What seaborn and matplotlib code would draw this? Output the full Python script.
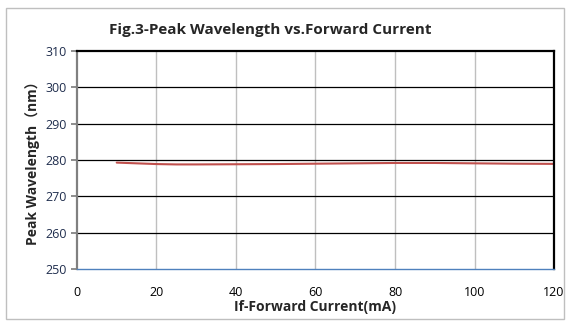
import matplotlib
matplotlib.use("Agg")
import matplotlib.pyplot as plt
import seaborn as sns
import pandas as pd
from matplotlib.patches import Rectangle

current_mA = [10, 15, 20, 25, 30, 40, 50, 60, 70, 80, 90, 100, 110, 120]
peak_nm = [279.3, 279.1, 278.9, 278.8, 278.8, 278.85, 278.9, 279.0, 279.1, 279.2, 279.2, 279.1, 279.0, 278.95]
x_ticks = [0, 20, 40, 60, 80, 100, 120]
y_ticks = [250, 260, 270, 280, 290, 300, 310]

df = pd.DataFrame({"I": current_mA, "WL": peak_nm})

sns.set_theme(style="white")
plt.rcParams['font.family'] = ['Open Sans', 'DejaVu Sans']

fig = plt.figure(figsize=(5.7, 3.25), dpi=100)
fig.patch.set_facecolor("white")
fig.patches.append(Rectangle((0.011, 0.02), 0.978, 0.955, transform=fig.transFigure,
                             fill=False, edgecolor="#bfbfbf", linewidth=1.0))
ax = fig.add_axes([0.135, 0.172, 0.837, 0.671])

sns.lineplot(data=df, x="I", y="WL", ax=ax, color="#c0504d", linewidth=1.5)

ax.set_xlim(0, 120)
ax.set_ylim(250, 310)
ax.set_xticks(x_ticks)
ax.set_yticks(y_ticks)
ax.grid(False)
for xt in x_ticks[1:-1]:
    ax.axvline(xt, color="#bfbfbf", linewidth=1.0, zorder=0)
for yt in y_ticks[1:-1]:
    ax.axhline(yt, color="#000000", linewidth=0.9, zorder=0)

ax.spines["top"].set_color("black"); ax.spines["top"].set_linewidth(1.6)
ax.spines["right"].set_color("black"); ax.spines["right"].set_linewidth(1.6)
ax.spines["left"].set_color("#808080"); ax.spines["left"].set_linewidth(1.6)
ax.spines["bottom"].set_color("#4f81bd"); ax.spines["bottom"].set_linewidth(1.0)

ax.tick_params(axis="y", left=True, length=4, color="#808080", labelsize=9, labelcolor="#1f2d4d", pad=3)
ax.tick_params(axis="x", bottom=False, labelsize=9, labelcolor="#000000", pad=6)

ax.set_xlabel("If-Forward Current(mA)", fontsize=10, fontweight="bold", labelpad=1)
ax.set_ylabel("Peak Wavelength\uff08nm\uff09", fontsize=10, fontweight="bold", labelpad=4,
              family=['Open Sans', 'Noto Sans CJK SC'])
ax.set_title("Fig.3-Peak Wavelength vs.Forward Current", fontsize=11, fontweight="bold", pad=12, x=0.405)

fig.savefig("out.png", dpi=100)
